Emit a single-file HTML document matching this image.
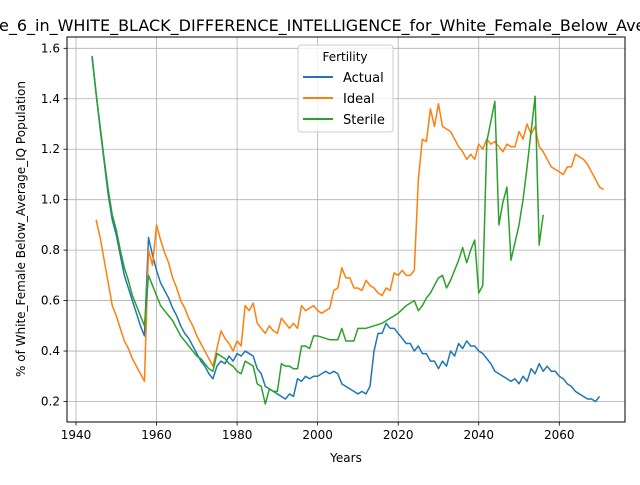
<!DOCTYPE html>
<html><head><meta charset="utf-8"><style>
body{margin:0;background:#fff}
svg{font-family:"DejaVu Sans","Liberation Sans",sans-serif}
</style></head><body>
<svg id="chart" width="640" height="480" viewBox="0 0 640 480">
<text x="-1" y="31" font-size="16">e_6_in_WHITE_BLACK_DIFFERENCE_INTELLIGENCE_for_White_Female_Below_Average_IQ</text>
<g id="grid"></g>
<g id="series"></g>
<rect x="67" y="37" width="558" height="385" fill="none" stroke="#000" stroke-width="1"/>
<g id="axes"></g>
<text x="346" y="462" font-size="12" text-anchor="middle">Years</text>
<text transform="translate(25,229) rotate(-90)" font-size="12" text-anchor="middle">% of White_Female Below_Average_IQ Population</text>
<g>
<rect x="298" y="45" width="95" height="87" rx="3" fill="#fff" fill-opacity="0.8" stroke="#ccc"/>
<text x="345" y="61" font-size="12" text-anchor="middle">Fertility</text>
<line x1="303" y1="77" x2="333" y2="77" stroke="#1f77b4" stroke-width="2"/>
<text x="343" y="82" font-size="13">Actual</text>
<line x1="303" y1="98" x2="333" y2="98" stroke="#ff7f0e" stroke-width="2"/>
<text x="343" y="103" font-size="13">Ideal</text>
<line x1="303" y1="119" x2="333" y2="119" stroke="#2ca02c" stroke-width="2"/>
<text x="343" y="124" font-size="13">Sterile</text>
</g>
</svg>
<script>
const actualStart = 1944;
const actualValues = [1.57,1.42,1.28,1.15,1.02,0.92,0.86,0.78,0.70,0.65,0.60,0.55,0.50,0.46,0.85,0.78,0.72,0.67,0.64,0.61,0.57,0.54,0.50,0.47,0.45,0.42,0.39,0.36,0.34,0.31,0.29,0.34,0.36,0.35,0.38,0.36,0.39,0.38,0.40,0.39,0.38,0.33,0.31,0.26,0.25,0.24,0.23,0.22,0.21,0.23,0.22,0.29,0.28,0.30,0.29,0.30,0.30,0.31,0.32,0.31,0.32,0.31,0.27,0.26,0.25,0.24,0.23,0.24,0.23,0.26,0.40,0.47,0.47,0.51,0.49,0.49,0.47,0.45,0.43,0.43,0.40,0.42,0.39,0.39,0.36,0.36,0.33,0.36,0.34,0.40,0.38,0.43,0.41,0.44,0.42,0.42,0.40,0.39,0.37,0.35,0.32,0.31,0.30,0.29,0.28,0.29,0.27,0.30,0.28,0.33,0.31,0.35,0.32,0.34,0.32,0.32,0.30,0.29,0.27,0.26,0.24,0.23,0.22,0.21,0.21,0.20,0.22];
const idealStart = 1945;
const idealValues = [0.92,0.85,0.76,0.67,0.58,0.54,0.49,0.44,0.41,0.37,0.34,0.31,0.28,0.80,0.74,0.90,0.84,0.79,0.75,0.69,0.65,0.60,0.57,0.53,0.50,0.46,0.43,0.40,0.37,0.34,0.41,0.48,0.45,0.43,0.40,0.44,0.42,0.58,0.56,0.59,0.51,0.49,0.47,0.50,0.48,0.47,0.53,0.51,0.49,0.51,0.49,0.58,0.56,0.57,0.58,0.56,0.55,0.56,0.57,0.64,0.65,0.73,0.69,0.69,0.65,0.65,0.64,0.68,0.66,0.65,0.63,0.62,0.65,0.64,0.71,0.70,0.72,0.70,0.70,0.72,1.08,1.24,1.23,1.36,1.29,1.38,1.29,1.28,1.27,1.24,1.21,1.19,1.16,1.18,1.16,1.22,1.20,1.24,1.22,1.23,1.21,1.19,1.22,1.21,1.21,1.27,1.24,1.30,1.26,1.29,1.21,1.19,1.16,1.13,1.12,1.11,1.10,1.13,1.13,1.18,1.17,1.16,1.14,1.11,1.08,1.05,1.04];
const sterileStart = 1944;
const sterileValues = [1.56,1.42,1.29,1.16,1.04,0.94,0.88,0.80,0.73,0.68,0.62,0.58,0.54,0.50,0.70,0.66,0.62,0.58,0.56,0.54,0.52,0.49,0.46,0.44,0.42,0.40,0.38,0.37,0.35,0.33,0.32,0.39,0.38,0.37,0.35,0.34,0.32,0.31,0.36,0.35,0.34,0.27,0.26,0.19,0.25,0.24,0.24,0.35,0.34,0.34,0.33,0.33,0.42,0.42,0.41,0.46,0.46,0.455,0.45,0.445,0.445,0.445,0.49,0.44,0.44,0.44,0.49,0.49,0.49,0.495,0.50,0.505,0.51,0.52,0.53,0.54,0.55,0.565,0.58,0.59,0.60,0.56,0.58,0.61,0.63,0.66,0.69,0.70,0.65,0.68,0.72,0.76,0.81,0.75,0.80,0.84,0.63,0.66,1.23,1.31,1.39,0.90,0.99,1.05,0.76,0.83,0.90,1.00,1.13,1.27,1.41,0.82,0.94];
const xTicks = [1940,1960,1980,2000,2020,2040,2060];
const yTicks = [0.2,0.4,0.6,0.8,1.0,1.2,1.4,1.6];
const yTickLabels = ["0.2","0.4","0.6","0.8","1.0","1.2","1.4","1.6"];

const NS = "http://www.w3.org/2000/svg";
function xs(year){ return 76 + (year - 1940) * (559.3 - 76) / 120; }
function ys(v){ return 401.5 - (v - 0.2) * (401.5 - 48.3) / 1.4; }
const grid = document.getElementById('grid');
const axes = document.getElementById('axes');
const series = document.getElementById('series');
function mk(tag, attrs, parent){ const e = document.createElementNS(NS, tag); for (const k in attrs) e.setAttribute(k, attrs[k]); parent.appendChild(e); return e; }
xTicks.forEach(t => {
  const g = mk('line', {x1: xs(t), x2: xs(t), y1: 37, y2: 422, stroke: '#b0b0b0', 'stroke-width': 0.8}, grid);
  
  
  mk('line', {x1: xs(t), x2: xs(t), y1: 422, y2: 425.5, stroke: '#000', 'stroke-width': 0.8}, axes);
  const l = mk('text', {x: xs(t), y: 439, 'font-size': 12, 'text-anchor': 'middle'}, axes);
  l.textContent = t;
  
  
});
yTicks.forEach((t, i) => {
  const g = mk('line', {x1: 67, x2: 625, y1: ys(t), y2: ys(t), stroke: '#b0b0b0', 'stroke-width': 0.8}, grid);
  
  
  mk('line', {x1: 63.5, x2: 67, y1: ys(t), y2: ys(t), stroke: '#000', 'stroke-width': 0.8}, axes);
  const l = mk('text', {x: 60, y: ys(t) + 4, 'font-size': 12, 'text-anchor': 'end'}, axes);
  l.textContent = yTickLabels[i];
  
  
});
function drawLine(start, vals, color, name){
  const pts = vals.map((v, i) => xs(start + i).toFixed(2) + ',' + ys(v).toFixed(2)).join(' ');
  const p = mk('polyline', {points: pts, fill: 'none', stroke: color, 'stroke-width': 1.5, 'stroke-linejoin': 'round'}, series);
  
  
}
drawLine(actualStart, actualValues, '#1f77b4', 'actual-line');
drawLine(idealStart, idealValues, '#ff7f0e', 'ideal-line');
drawLine(sterileStart, sterileValues, '#2ca02c', 'sterile-line');
</script>
</body></html>
